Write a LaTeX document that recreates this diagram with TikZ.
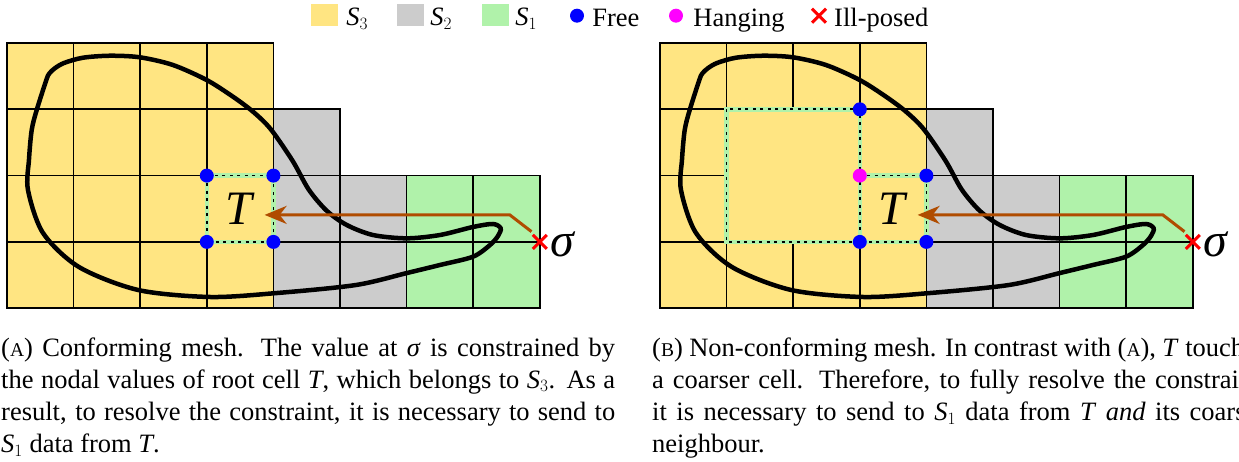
\documentclass[tikz,border=0pt]{standalone}
\usepackage{fontspec}
\setmainfont{Liberation Serif}
\usetikzlibrary{arrows.meta,positioning,calc,shapes.misc}
\definecolor{cthree}{RGB}{255,229,130}
\definecolor{ctwo}{RGB}{204,204,204}
\definecolor{cone}{RGB}{176,242,170}
\definecolor{cflow}{RGB}{176,76,0}
\definecolor{cfree}{RGB}{0,0,255}
\definecolor{chang}{RGB}{255,0,255}
\definecolor{cill}{RGB}{255,0,0}
\newcommand{\fakesc}[1]{{\fontsize{19.5pt}{19.5pt}\selectfont #1}}
\newcommand{\vT}{\textit{T}}
\newcommand{\vsig}{\textit{σ}}
\newcommand{\vS}[1]{\textit{S}$_{#1}$}
\newcommand{\blobcurve}{plot[smooth cycle,tension=0.5] coordinates {
  (0.590,0.560) (0.635,0.460) (0.720,0.380) (0.860,0.300) (1.141,0.222) (1.547,0.192)
  (1.997,0.216) (2.492,0.332) (2.998,0.558) (3.393,0.810) (3.694,1.036)
  (3.960,1.300) (4.290,1.780) (4.530,2.210) (4.800,2.530)
  (5.101,2.745) (5.495,2.896) (6.002,2.946) (6.502,2.896) (6.997,2.775)
  (7.297,2.730) (7.413,2.795) (7.372,2.911) (7.252,3.047) (6.997,3.223)
  (6.502,3.348) (6.006,3.469) (5.240,3.650) (4.054,3.771) (3.048,3.831)
  (1.967,3.725) (1.081,3.379) (0.541,2.866) (0.315,2.217) (0.330,1.760)
  (0.371,1.312) (0.446,1.011)}}

\begin{document}
\begin{tikzpicture}[
  x=1pt,y=-1pt,
  every node/.style={inner sep=0pt},
  gridline/.style={line width=1.7pt,line cap=rect},
  blob/.style={line width=4.5pt},
  tcell/.style={line width=1.7pt,dash pattern=on 3pt off 4.5pt,
    preaction={draw=cone,line width=4.5pt,solid}},
  dot/.style={circle,minimum size=14pt},
  free/.style={dot,fill=cfree},
  hanging/.style={dot,fill=chang},
  illposed/.style={cross out,draw=cill,line width=3pt,minimum size=11pt},
  swatch/.style={minimum width=27pt,minimum height=22pt},
  legtext/.style={font=\fontsize{26.5pt}{32pt}\selectfont,text height=21pt,text depth=0pt},
  root/.style={minimum width=66.6pt,minimum height=66.3pt,font=\fontsize{48pt}{48pt}\selectfont},
  sig/.style={font=\fontsize{48pt}{48pt}\selectfont,yshift=-2.5pt},
  flow/.style={draw=cflow,line width=3pt,-{Stealth[length=22pt,width=18pt,inset=7pt]}},
  caption/.style={anchor=base west,text width=614pt,align=justify,
    font=\fontsize{26.5pt}{32.2pt}\selectfont}
]
  \useasboundingbox (0,0) rectangle (1239,462);

  % legend
  \node[swatch,fill=cthree] (kthree) at (324.4,15) {};
  \node[legtext,right=8pt of kthree] (lthree) {\vS{3}};
  \node[swatch,fill=ctwo] (ktwo) at (410.4,15) {};
  \node[legtext,right=6pt of ktwo] (ltwo) {\vS{2}};
  \node[swatch,fill=cone] (kone) at (495.4,15) {};
  \node[legtext,right=6pt of kone] (lone) {\vS{1}};
  \node[free] (kfree) at (577,15.7) {};
  \node[legtext,right=8pt of kfree] (lfree) {Free};
  \node[hanging] (khang) at (676,15.7) {};
  \node[legtext,right=10pt of khang] (lhang) {Hanging};
  \node[illposed] (kill) at (819,15.7) {};
  \node[legtext,right=8pt of kill] (lill) {Ill-posed};

  % (a) conforming mesh
  \begin{scope}[shift={(7,43)},x=66.6pt,y=-66.3pt]
    \fill[cthree] (0,0) rectangle (4,4);
    \fill[ctwo] (4,1) rectangle (5,4) (5,2) rectangle (6,4);
    \fill[cone] (6,2) rectangle (8,4);
    \draw[gridline] (0,0) -- (4,0) (0,1) -- (5,1);
    \foreach \r in {2,3,4} \draw[gridline] (0,\r) -- (8,\r);
    \foreach \c in {0,...,4} \draw[gridline] (\c,0) -- (\c,4);
    \draw[gridline] (5,1) -- (5,4);
    \foreach \c in {6,7,8} \draw[gridline] (\c,2) -- (\c,4);
    \draw[tcell] (3,2) rectangle (4,3);
    \draw[blob] \blobcurve;
    \node[root] (TL) at (3.5,2.5) {\vT};
    \node[illposed] (sigL) at (8,3) {};
    \node[sig,right=3pt of sigL] (sigLtext) {\vsig};
    \coordinate (bendL) at ($(sigL)+(-0.45,-0.407)$);
    \coordinate (tipL) at ($(TL.east)+(-0.135,0)$);
    \draw[flow] ($(sigL)+(-0.125,-0.155)$) -- (bendL) -- (bendL -| tipL);
    \foreach \p [count=\i] in {(3,2),(4,2),(3,3),(4,3)}
      \node[free] (fL\i) at \p {};
  \end{scope}

  % (b) non-conforming mesh
  \begin{scope}[shift={(660,43)},x=66.6pt,y=-66.3pt]
    \fill[cthree] (0,0) rectangle (4,4);
    \fill[ctwo] (4,1) rectangle (5,4) (5,2) rectangle (6,4);
    \fill[cone] (6,2) rectangle (8,4);
    \draw[gridline] (0,0) -- (4,0) (0,1) -- (5,1);
    \foreach \r in {2,3,4} \draw[gridline] (0,\r) -- (8,\r);
    \foreach \c in {0,...,4} \draw[gridline] (\c,0) -- (\c,4);
    \draw[gridline] (5,1) -- (5,4);
    \foreach \c in {6,7,8} \draw[gridline] (\c,2) -- (\c,4);
    \fill[cthree] (1,1) rectangle (3,3);
    \draw[tcell] (1,1) rectangle (3,3);
    \draw[tcell] (3,2) -- (4,2) -- (4,3) -- (3,3);
    \draw[blob] \blobcurve;
    \node[root] (TR) at (3.5,2.5) {\vT};
    \node[illposed] (sigR) at (8,3) {};
    \node[sig,right=3pt of sigR] (sigRtext) {\vsig};
    \coordinate (bendR) at ($(sigR)+(-0.45,-0.407)$);
    \coordinate (tipR) at ($(TR.east)+(-0.135,0)$);
    \draw[flow] ($(sigR)+(-0.125,-0.155)$) -- (bendR) -- (bendR -| tipR);
    \foreach \p [count=\i] in {(3,1),(4,2),(3,3),(4,3)}
      \node[free] (fR\i) at \p {};
    \node[hanging] (hR) at (3,2) {};
  \end{scope}

  % captions
  \node[caption] (capA) at (1,356) {(\fakesc{A}) Conforming mesh.  The value at \vsig{} is constrained by\linebreak
    the nodal values of root cell \vT, which belongs to \vS{3}. As a\linebreak
    result, to resolve the constraint, it is necessary to send to\linebreak
    \vS{1} data from \vT.};
  \node[caption] (capB) at (652,356) {(\fakesc{B}) Non-conforming mesh. In contrast with (\fakesc{A}), \vT{} touches\linebreak
    a coarser cell.  Therefore, to fully resolve the constraint,\linebreak
    it is necessary to send to \vS{1} data from \vT{} \emph{and} its coarser\linebreak
    neighbour.};
\end{tikzpicture}
\end{document}
